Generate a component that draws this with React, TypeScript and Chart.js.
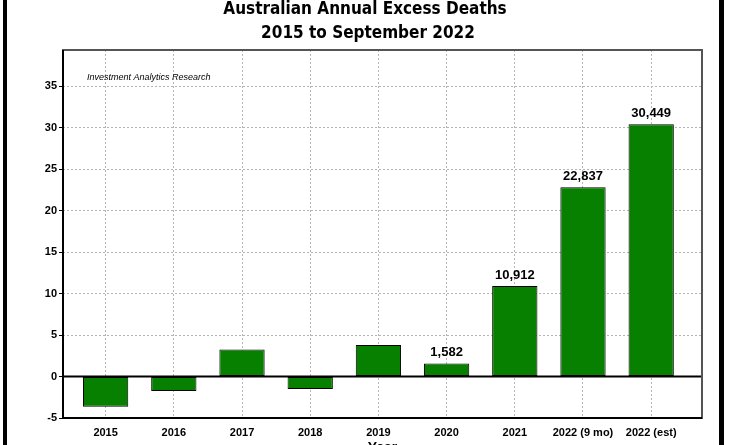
import React, { useEffect, useRef } from "react";
import { Chart, registerables } from "chart.js";

Chart.register(...registerables);

const YEARS = ["2015", "2016", "2017", "2018", "2019", "2020", "2021", "2022 (9 mo)", "2022 (est)"];
const EXCESS = [-3.65, -1.75, 3.25, -1.5, 3.8, 1.582, 10.912, 22.837, 30.449];
const VALUE_LABELS = ["", "", "", "", "", "1,582", "10,912", "22,837", "30,449"];
const TITLE_LINES = ["Australian Annual Excess Deaths", "2015 to September 2022"];
const WATERMARK = "Investment Analytics Research";
const X_TITLE = "Year";
const Y_MIN = -5;
const Y_MAX = 39.4;
const Y_STEP = 5;
const X_MIN = -0.625;
const X_MAX = 8.745;

const FONT = "'Liberation Sans', Arial, Helvetica, sans-serif";
const TITLE_FONT = "'DejaVu Sans Condensed', 'DejaVu Sans', sans-serif";

export default function App() {
  const ref = useRef<HTMLCanvasElement>(null);

  useEffect(() => {
    const canvas = ref.current;
    if (!canvas) return;

    const decor = {
      id: "decor",
      beforeDraw(chart: any) {
        const { ctx, width, height } = chart;
        ctx.save();
        ctx.fillStyle = "#ffffff";
        ctx.fillRect(0, 0, width, height);
        ctx.restore();
      },
      afterDatasetsDraw(chart: any) {
        const { ctx, chartArea: a, scales } = chart;
        const y0 = scales.y.getPixelForValue(0);
        ctx.save();
        // zero line
        ctx.strokeStyle = "#000";
        ctx.lineWidth = 2;
        ctx.beginPath();
        ctx.moveTo(a.left, y0);
        ctx.lineTo(a.right, y0);
        ctx.stroke();
        // plot frame
        ctx.strokeStyle = "#555";
        ctx.lineWidth = 2;
        ctx.strokeRect(a.left, a.top, a.right - a.left, a.bottom - a.top);
        ctx.strokeStyle = "#000";
        ctx.beginPath();
        ctx.moveTo(a.left, a.top);
        ctx.lineTo(a.left, a.bottom);
        ctx.lineTo(a.right, a.bottom);
        ctx.stroke();
        // value labels
        const meta = chart.getDatasetMeta(0);
        ctx.font = `bold 13px ${FONT}`;
        ctx.fillStyle = "#000";
        ctx.textAlign = "center";
        ctx.textBaseline = "middle";
        meta.data.forEach((bar: any, i: number) => {
          const t = VALUE_LABELS[i];
          if (!t) return;
          ctx.fillText(t, bar.x, bar.y - 11);
        });
        // watermark
        ctx.font = `italic 9px ${FONT}`;
        ctx.textAlign = "left";
        ctx.fillText(WATERMARK, a.left + 24, a.top + 27);
        ctx.restore();
      },
      afterDraw(chart: any) {
        const { ctx, chartArea: a, height } = chart;
        ctx.save();
        ctx.fillStyle = "#000";
        ctx.textAlign = "center";
        ctx.textBaseline = "middle";
        ctx.font = `bold 17px ${TITLE_FONT}`;
        ctx.fillText(TITLE_LINES[0], 365, 9.5);
        ctx.fillText(TITLE_LINES[1], 368, 34);
        ctx.font = `bold 14px ${FONT}`;
        ctx.textBaseline = "top";
        ctx.fillText(X_TITLE, (a.left + a.right) / 2, a.bottom + 23);
        // side bars
        ctx.fillRect(3, 0, 4, height);
        ctx.fillRect(719, 0, 5, height);
        ctx.restore();
      },
    };

    const chart = new Chart(canvas, {
      type: "bar",
      data: {
        datasets: [
          {
            data: EXCESS.map((v, i) => ({ x: i, y: v })),
            backgroundColor: "#078000",
            borderColor: "#000",
            borderWidth: 1,
            borderSkipped: false,
            categoryPercentage: 1,
            barPercentage: 0.664,
          },
        ],
      },
      options: {
        responsive: false,
        animation: false,
        devicePixelRatio: 1,
        layout: { padding: { top: 50, right: 27, left: 0, bottom: 0 } },
        plugins: {
          legend: { display: false },
          title: { display: false },
          tooltip: { enabled: false },
        },
        scales: {
          x: {
            type: "linear",
            min: X_MIN,
            max: X_MAX,
            offset: false,
            afterBuildTicks: (s: any) => {
              s.ticks = YEARS.map((_, i) => ({ value: i }));
            },
            afterFit: (s: any) => {
              s.height = 27;
            },
            ticks: {
              autoSkip: false,
              maxRotation: 0,
              minRotation: 0,
              padding: 8,
              color: "#000",
              font: { family: FONT, size: 11, weight: "bold" },
              callback: (v: any) => YEARS[Math.round(v)] ?? "",
            },
            grid: { color: "#b4b4b4", lineWidth: 1, drawTicks: false, offset: false },
            border: { display: false, dash: [2, 2] },
          },
          y: {
            type: "linear",
            min: Y_MIN,
            max: Y_MAX,
            afterFit: (s: any) => {
              s.width = 63;
            },
            ticks: {
              stepSize: Y_STEP,
              includeBounds: false,
              padding: 2,
              color: "#000",
              font: { family: FONT, size: 11, weight: "bold" },
            },
            grid: {
              color: "#b4b4b4",
              lineWidth: 1,
              drawTicks: true,
              tickLength: 4,
              tickColor: "#000",
              tickBorderDash: [],
            },
            border: { display: false, dash: [2, 2] },
          },
        },
      },
      plugins: [decor],
    } as any);

    return () => chart.destroy();
  }, []);

  return (
    <div style={{ position: "fixed", left: 0, top: 0, width: 729, height: 445, overflow: "hidden", background: "#fff" }}>
      <canvas ref={ref} width={729} height={445} style={{ display: "block" }} />
    </div>
  );
}
